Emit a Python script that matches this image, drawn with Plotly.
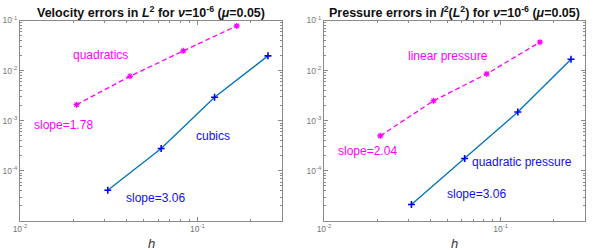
import plotly.graph_objects as go
import numpy as np

# data
h_quad = [1/48, 1/24, 1/12, 1/6]
vel_quad = [2.09e-3, 7.7e-3, 2.48e-2, 7.8e-2]
h_cub = [1/32, 1/16, 1/8, 1/4]
vel_cub = [4.1e-5, 2.8e-4, 2.94e-3, 1.97e-2]

h_lin = [1/48, 1/24, 1/12, 1/6]
pres_lin = [5.0e-4, 2.5e-3, 8.6e-3, 3.7e-2]
h_qp = [1/32, 1/16, 1/8, 1/4]
pres_qp = [2.13e-5, 1.77e-4, 1.49e-3, 1.69e-2]

xtickvals = [1e-2, 1e-1]
xticktext = ["10<sup>-2</sup>", "10<sup>-1</sup>"]
ytickvals = [1e-4, 1e-3, 1e-2, 1e-1]
yticktext = ["10<sup>-4</sup>", "10<sup>-3</sup>", "10<sup>-2</sup>", "10<sup>-1</sup>"]

MAG = "#FF00FF"
BLU = "#1010F0"
LINEBLUE = "#0072BD"
AXC = "#8a8a8a"
FONT = "Liberation Sans, Arial, sans-serif"

fig = go.Figure()

def add_pair(xa, ya, hx1, y1, hx2, y2):
    fig.add_trace(go.Scatter(x=hx1, y=y1, xaxis=xa, yaxis=ya, mode="lines+markers",
                             line=dict(color=MAG, width=1.3, dash="5px,3px"),
                             marker=dict(symbol="asterisk-open", size=5, color=MAG,
                                         line=dict(color=MAG, width=1.2)),
                             showlegend=False))
    fig.add_trace(go.Scatter(x=hx2, y=y2, xaxis=xa, yaxis=ya, mode="lines+markers",
                             line=dict(color=LINEBLUE, width=1.3),
                             marker=dict(symbol="cross-thin-open", size=5, color="#0000FF",
                                         line=dict(color="#0000FF", width=1.6)),
                             showlegend=False))

add_pair("x", "y", h_quad, vel_quad, h_cub, vel_cub)
add_pair("x2", "y2", h_lin, pres_lin, h_qp, pres_qp)

minor_x = [m * 10.0**e for e in (-2, -1) for m in range(2, 10)]
minor_y = [m * 10.0**e for e in (-5, -4, -3, -2) for m in range(2, 10)]

def xaxis(domain, anchor):
    return dict(type="log", domain=domain, anchor=anchor, range=[-2, np.log10(0.3)],
                automargin=False,
                tickmode="array", tickvals=xtickvals, ticktext=xticktext,
                ticks="inside", ticklen=4, tickcolor=AXC, tickwidth=1,
                showline=True, linecolor=AXC, linewidth=1, mirror="allticks",
                showgrid=False, zeroline=False,
                tickfont=dict(family=FONT, size=8.5, color="#777777"),
                minor=dict(tickmode="array", tickvals=minor_x, ticks="inside",
                           ticklen=2, tickcolor=AXC, showgrid=False))

def yaxis(domain, anchor):
    return dict(type="log", domain=domain, anchor=anchor, range=[-4.99, -1],
                automargin=False,
                tickmode="array", tickvals=ytickvals, ticktext=yticktext,
                ticks="inside", ticklen=4, tickcolor=AXC, tickwidth=1,
                showline=True, linecolor=AXC, linewidth=1, mirror="allticks",
                showgrid=False, zeroline=False,
                tickfont=dict(family=FONT, size=8.5, color="#777777"),
                minor=dict(tickmode="array", tickvals=minor_y, ticks="inside",
                           ticklen=2, tickcolor=AXC, showgrid=False))

ydom = [1 - 220.5/250, 1 - 20.5/250]
fig.update_layout(
    width=600, height=250, margin=dict(l=0, r=0, t=0, b=0),
    paper_bgcolor="white", plot_bgcolor="white",
    xaxis=xaxis([20/600, 282/600], "y"),
    yaxis=yaxis(ydom, "x"),
    xaxis2=xaxis([324/600, 585/600], "y2"),
    yaxis2=yaxis(ydom, "x2"),
    font=dict(family=FONT),
)

anns = []
def title(text, xc):
    anns.append(dict(text=text, x=xc, y=1 - 12/250, xref="paper", yref="paper",
                     showarrow=False, xanchor="center", yanchor="middle",
                     font=dict(family=FONT, size=12.5, color="#111111")))

title("<b>Velocity errors in <i>L</i><sup>2</sup> for <i>ν</i>=10<sup>-6</sup> (<i>μ</i>=0.05)</b>", 151/600)
title("<b>Pressure errors in <i>l</i><sup>2</sup>(<i>L</i><sup>2</sup>) for <i>ν</i>=10<sup>-6</sup> (<i>μ</i>=0.05)</b>", 454.5/600)

for xc in (151/600, 454.5/600):
    anns.append(dict(text="<i>h</i>", x=xc, y=1 - 243/250, xref="paper", yref="paper",
                     showarrow=False, xanchor="center", yanchor="middle",
                     font=dict(family=FONT, size=13, color="#333333")))

def lab(text, x, y, col, xr, yr):
    anns.append(dict(text=text, x=x, y=y, xref=xr, yref=yr, showarrow=False,
                     xanchor="center", yanchor="middle",
                     font=dict(family=FONT, size=12, color=col)))

lab("quadratics", -1.545, -1.686, MAG, "x", "y")
lab("slope=1.78", -1.753, -3.086, MAG, "x", "y")
lab("cubics", -0.910, -3.306, BLU, "x", "y")
lab("slope=3.06", -1.238, -4.532, BLU, "x", "y")
lab("linear pressure", -1.301, -1.706, MAG, "x2", "y2")
lab("slope=2.04", -1.753, -3.6, MAG, "x2", "y2")
lab("quadratic pressure", -0.877, -3.832, BLU, "x2", "y2")
lab("slope=3.06", -1.137, -4.466, BLU, "x2", "y2")

fig.update_layout(annotations=anns)
fig.write_html("out.html")
